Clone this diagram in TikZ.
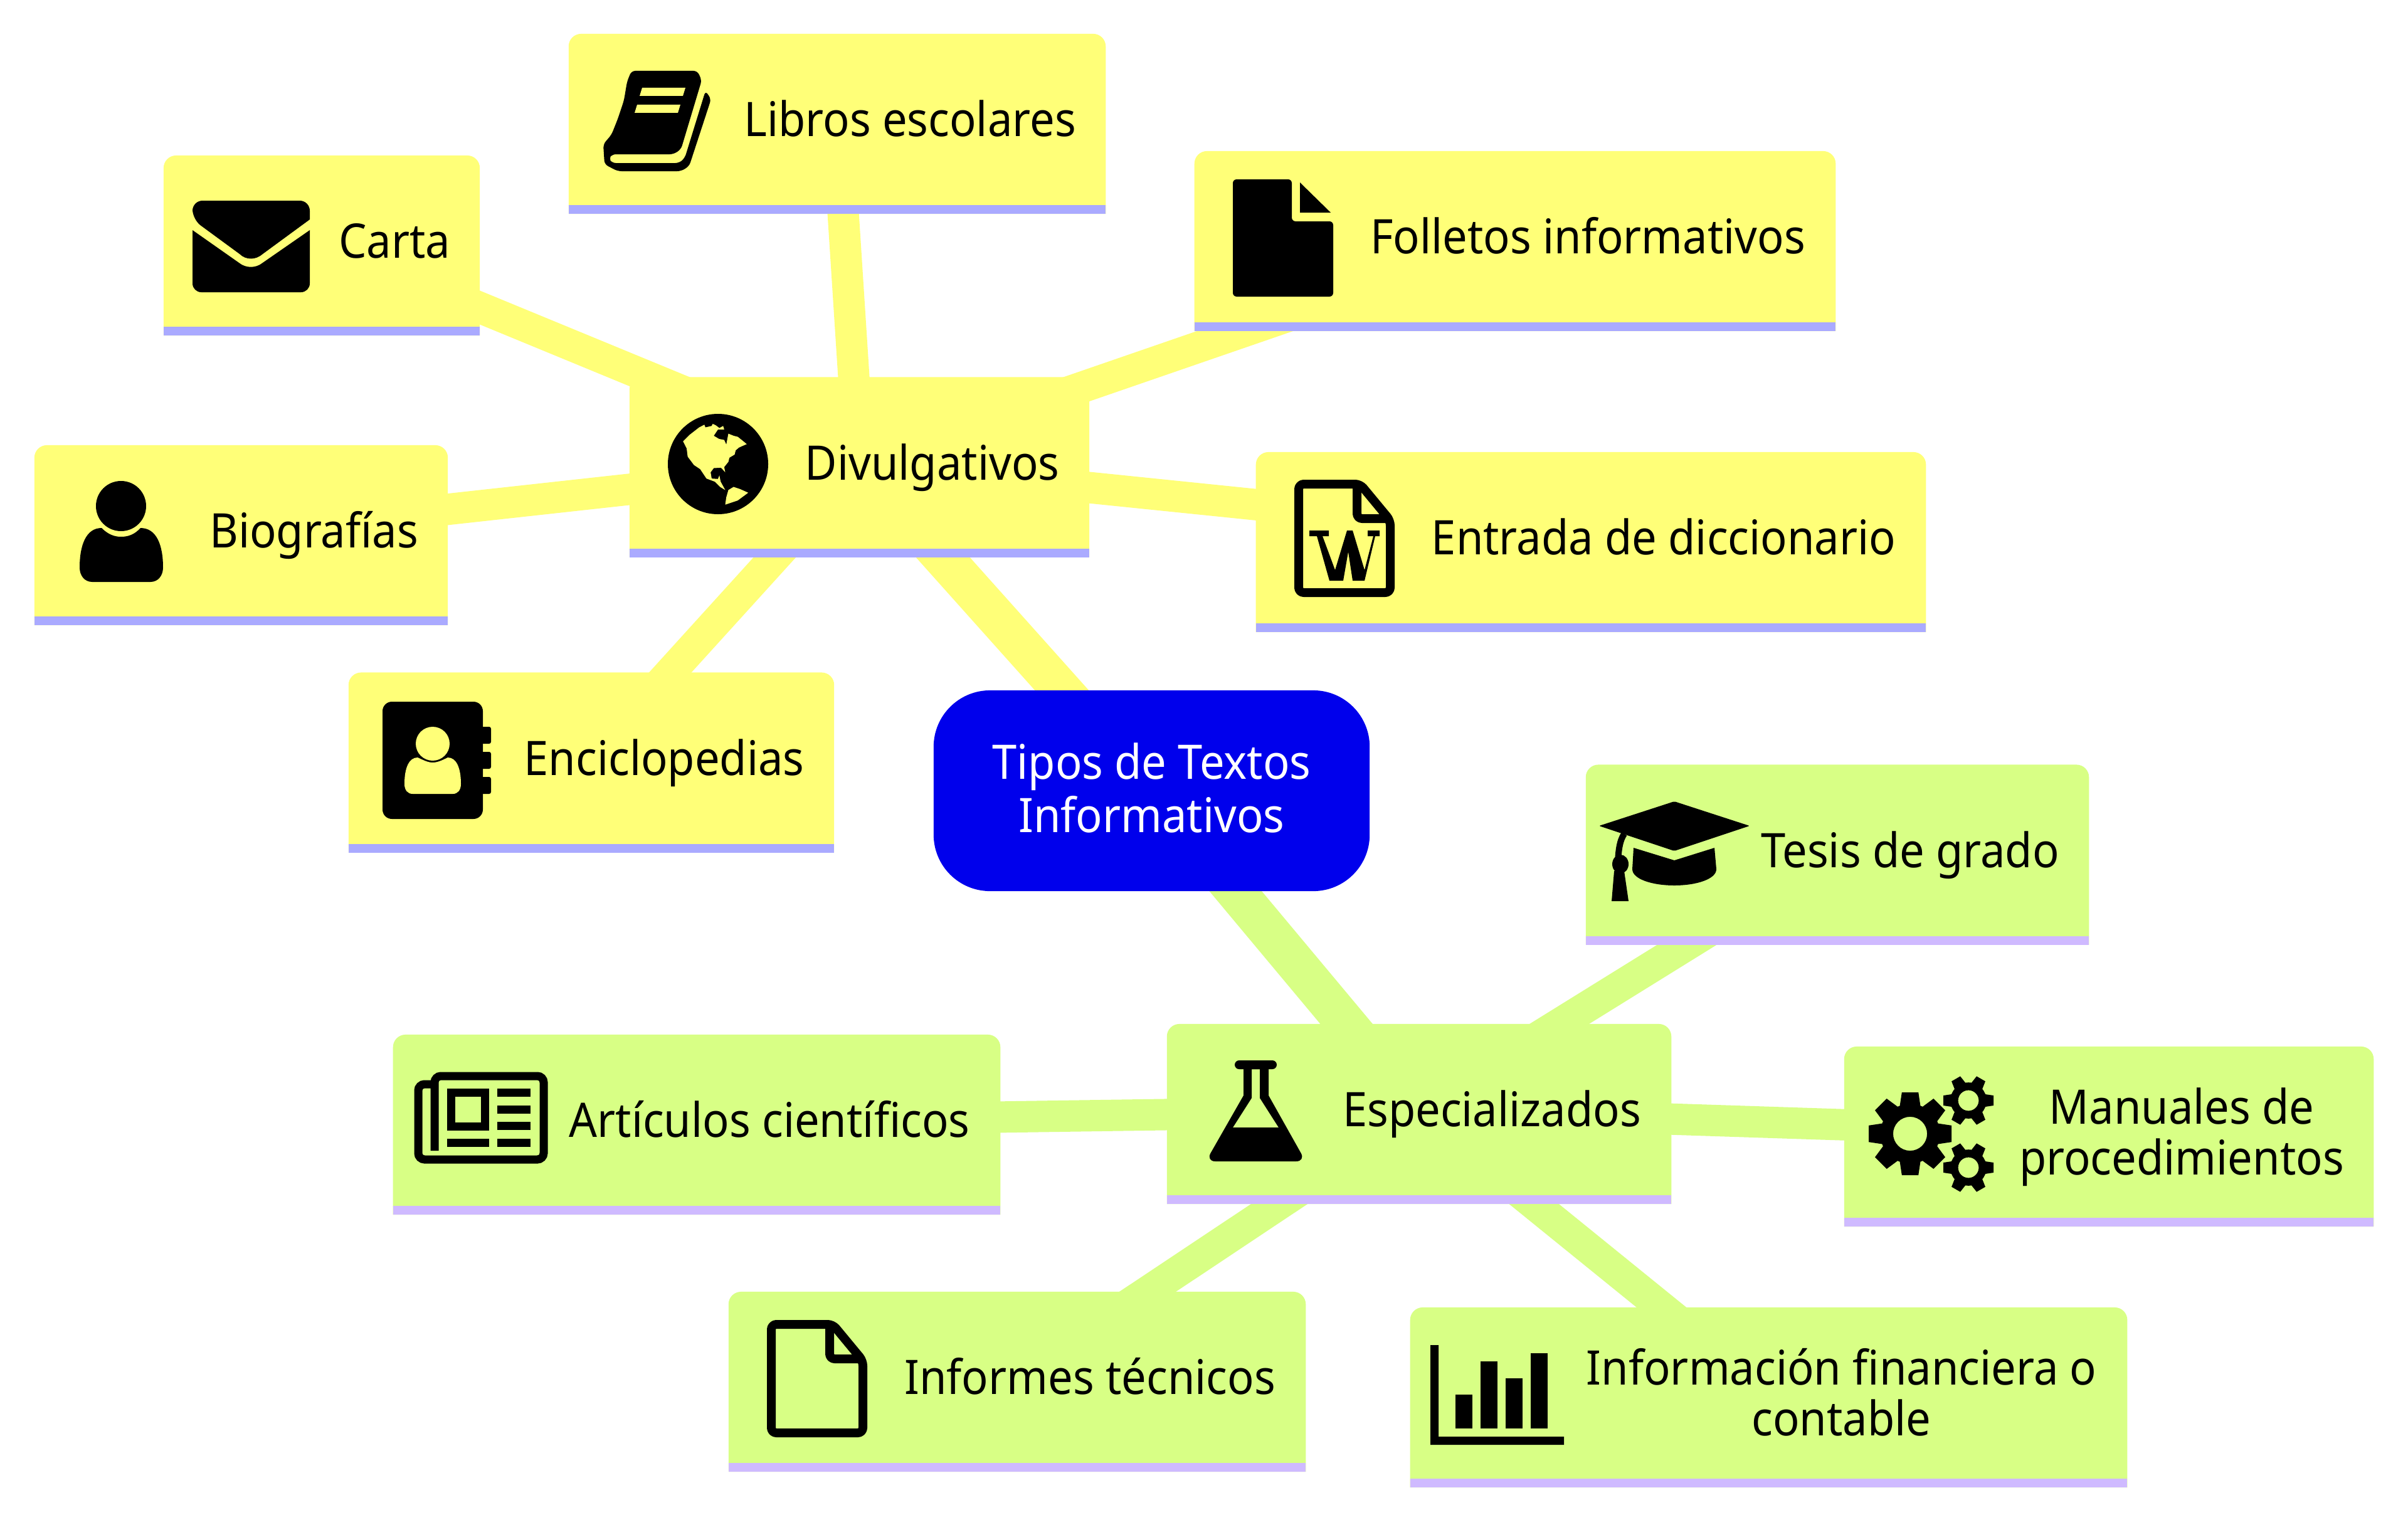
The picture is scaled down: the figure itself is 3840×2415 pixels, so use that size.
\documentclass[tikz,border=0pt]{standalone}
\usepackage{fontspec}
\setmainfont{Noto Sans}[FakeStretch=0.927]
\usepackage{tikz}
\usetikzlibrary{backgrounds}
\definecolor{divfill}{HTML}{FFFF78}
\definecolor{divline}{HTML}{AAAAFF}
\definecolor{espfill}{HTML}{D8FF85}
\definecolor{espline}{HTML}{CFBAFF}
\definecolor{rootfill}{HTML}{0000EC}
\newcommand{\lineheight}{\rule[-0.2cm]{0pt}{0.8cm}}
\newcommand{\rootheight}{\rule[-0.16cm]{0pt}{0.8cm}}
\newcommand{\ic}{\hspace*{2.32cm}\lineheight}
\newcommand{\gearicon}[5]{
	\foreach \a in {1,...,#4}
		\fill [rotate around={360/#4*\a+#5:(#1,#2)}] (#1-0.26*#3,#2-0.6*#3) -- (#1-0.2*#3,#2-#3) -- (#1+0.2*#3,#2-#3) -- (#1+0.26*#3,#2-0.6*#3) -- cycle;
	\fill [even odd rule] (#1,#2) circle [radius=0.72*#3] (#1,#2) circle [radius=0.41*#3];
}
\tikzset{
	leaf/.style={rectangle, inner sep=0pt, outer sep=0pt, minimum height=2.87cm, align=center, font=\fontsize{21.6pt}{23.04pt}\selectfont},
	rootnode/.style={leaf, fill=rootfill, text=white, rounded corners=0.9cm, minimum height=3.2cm},
	bigedge/.style={line width=0.64cm},
	smalledge/.style={line width=0.5cm},
	iconline/.style={line width=0.14cm, rounded corners=0.08cm, line join=round},
	iconfill/.style={rounded corners=0.06cm}
}
\begin{document}
\begin{tikzpicture}[x=0.01cm, y=-0.01cm]
	\useasboundingbox (0,0) rectangle (3840,2415);

	\node [rootnode, minimum width=6.95cm] (root) at (1836.5,1261) {\rootheight Tipos de Textos\\\rootheight Informativos};

	\node [leaf, minimum width=7.33cm] (div) at (1370.5,745) {\ic Divulgativos};
	\node [leaf, minimum width=5.04cm] (carta) at (513,391.5) {\ic Carta};
	\node [leaf, minimum width=8.56cm] (libros) at (1335,197.5) {\ic Libros escolares};
	\node [leaf, minimum width=10.22cm] (folletos) at (2416,384.5) {\ic Folletos informativos};
	\node [leaf, minimum width=10.68cm] (entrada) at (2537,864.5) {\ic Entrada de diccionario};
	\node [leaf, minimum width=6.59cm] (biografias) at (384.5,853.5) {\ic Biografías};
	\node [leaf, minimum width=7.74cm] (enciclopedias) at (943,1216) {\ic Enciclopedias};

	\node [leaf, minimum width=8.04cm] (esp) at (2263,1776.5) {\ic Especializados};
	\node [leaf, minimum width=8.02cm] (tesis) at (2930,1363) {\ic Tesis de grado};
	\node [leaf, minimum width=8.44cm] (manuales) at (3363,1812.5) {\ic Manuales de\\\ic procedimientos};
	\node [leaf, minimum width=9.68cm] (articulos) at (1111,1793.5) {\ic Artículos científicos};
	\node [leaf, minimum width=9.2cm] (informes) at (1622,2203.5) {\ic Informes técnicos};
	\node [leaf, minimum width=11.43cm] (informacion) at (2820.5,2228.5) {\ic Información financiera o\\\ic contable};

	\begin{scope}[on background layer]
		\fill [white] (0,0) rectangle (3840,2415);
		\draw [bigedge, divfill] (root.center) -- ([yshift=0.05cm]div.center);
		\draw [bigedge, espfill] (root.center) -- ([yshift=0.05cm]esp.center);
		\foreach \n in {carta,libros,folletos,entrada,biografias,enciclopedias}
			\draw [smalledge, divfill] ([yshift=0.05cm]div.center) -- ([yshift=0.05cm]\n.center);
		\foreach \n in {tesis,manuales,articulos,informes,informacion}
			\draw [smalledge, espfill] ([yshift=0.05cm]esp.center) -- ([yshift=0.05cm]\n.center);
		\foreach \n/\c/\s in {div/divfill/divline,carta/divfill/divline,libros/divfill/divline,folletos/divfill/divline,entrada/divfill/divline,biografias/divfill/divline,enciclopedias/divfill/divline,esp/espfill/espline,tesis/espfill/espline,manuales/espfill/espline,articulos/espfill/espline,informes/espfill/espline,informacion/espfill/espline} {
			\fill [\c] (\n.south west) [rounded corners=0.2cm] -- (\n.north west) -- (\n.north east) [sharp corners] -- (\n.south east) -- cycle;
			\fill [\s] (\n.south west) rectangle ([yshift=0.14cm]\n.south east);
		}
	\end{scope}

	% globe
	\fill (1145,740) circle [radius=80];
	\begin{scope}[shift={(1060,640)}, x=0.00333cm, y=-0.00333cm]
		\fill [divfill] (88,192) -- (120,160) -- (165,125) -- (190,112) -- (195,125) -- (225,118) -- (230,108) -- (245,115) -- (262,128) -- (280,118) -- (285,135) -- (255,135) -- (235,165) -- (260,180) -- (285,185) -- (295,207) -- (305,155) -- (330,165) -- (350,170) -- (375,190) -- (393,205) -- (370,215) -- (355,222) -- (340,235) -- (335,255) -- (310,270) -- (305,290) -- (285,315) -- (290,340) -- (270,318) -- (235,320) -- (220,340) -- (225,370) -- (255,372) -- (262,355) -- (268,385) -- (290,425) -- (265,410) -- (240,385) -- (200,370) -- (170,325) -- (140,305) -- (110,265) -- (105,225) -- cycle;
		\fill [divfill] (290,495) -- (295,460) -- (305,425) -- (330,410) -- (360,420) -- (400,438) -- (350,475) -- cycle;
	\end{scope}

	% envelope
	\fill [rounded corners=0.16cm] (400,320) -- (307,320) -- (307,350) [sharp corners] -- (382,405) .. controls (392,415) and (408,415) .. (419,405) -- (494,350) [rounded corners=0.16cm] -- (494,320) -- cycle;
	\fill [rounded corners=0.14cm] (400,466) -- (307,466) [sharp corners] -- (307,367) -- (381,419) .. controls (392,428) and (408,428) .. (419,419) -- (494,367) [rounded corners=0.14cm] -- (494,466) -- cycle;

	% book
	\fill [iconfill] (1007,113) -- (1112,113) -- (1119,128) -- (1086,238) -- (1074,246) -- (976,246) -- (971,253) -- (976,260) -- (1083,260) -- (1092,252) -- (1125,145) -- (1134,158) -- (1099,265) -- (1086,273) -- (985,273) -- (964,262) -- (962,230) -- (975,215) -- (985,190) -- (995,160) -- (1000,130) -- cycle;
	\fill [divfill] (1024,140) -- (1093,140) -- (1089,153) -- (1020,153) -- cycle;
	\fill [divfill] (1016,167) -- (1085,167) -- (1081,180) -- (1012,180) -- cycle;

	% filled page
	\fill [iconfill] (1966,286) -- (2060,286) -- (2060,353) -- (2126,353) -- (2126,473) -- (1966,473) -- cycle;
	\fill (2073,291) -- (2122,339) -- (2073,339) -- cycle;

	% outlined pages
	\foreach \dx/\dy in {2064/765,1223/2105} {
		\draw [iconline] (\dx+7,\dy+7) -- (\dx+105,\dy+7) -- (\dx+153,\dy+65) -- (\dx+153,\dy+180) -- (\dx+7,\dy+180) -- cycle;
		\draw [iconline] (\dx+100,\dy+7) -- (\dx+100,\dy+62) -- (\dx+153,\dy+62);
	}
	\fill (2088,846) -- (2119,846) -- (2119,855) -- (2109,855) -- (2129,909) -- (2148,846) -- (2157,846) -- (2176,909) -- (2190,855) -- (2181,855) -- (2181,846) -- (2200,846) -- (2200,855) -- (2193,855) -- (2176,926) -- (2157,926) -- (2150,880) -- (2142,926) -- (2120,926) -- (2100,855) -- (2088,855) -- cycle;

	% person
	\fill (193,807) circle [radius=40];
	\fill (162,842) .. controls (172,852) and (182,856) .. (193,856) .. controls (205,856) and (215,852) .. (224,842) .. controls (250,842) and (260,870) .. (260,905) .. controls (260,918) and (252,928) .. (240,928) -- (147,928) .. controls (135,928) and (127,918) .. (127,905) .. controls (127,870) and (137,842) .. (162,842) -- cycle;

	% address book
	\fill [rounded corners=0.15cm] (610,1119) rectangle (770,1306);
	\foreach \y in {1159,1199,1239}
		\fill [rounded corners=0.03cm] (765,\y) rectangle (783,\y+27);
	\fill [divfill] (690,1186) circle [radius=27];
	\fill [divfill] (666,1208) .. controls (675,1212) and (682,1216) .. (690,1216) .. controls (698,1216) and (706,1212) .. (714,1208) .. controls (728,1208) and (735,1225) .. (735,1250) .. controls (735,1260) and (730,1266) .. (722,1266) -- (658,1266) .. controls (650,1266) and (645,1260) .. (645,1250) .. controls (645,1225) and (652,1208) .. (666,1208) -- cycle;

	% flask
	\fill [rounded corners=0.07cm] (1969,1691) rectangle (2036,1705);
	\fill [even odd rule] (1983,1700) -- (2023,1700) -- (2023,1747) [rounded corners=0.15cm] -- (2082,1852) -- (1923,1852) [sharp corners] -- (1983,1747) -- cycle (1996,1705) -- (2009,1705) -- (2009,1751) -- (2039,1798) -- (1966,1798) -- (1996,1751) -- cycle;

	% cap
	\fill [rounded corners=0.02cm] (2550,1317) -- (2670,1278) -- (2790,1317) -- (2670,1357) -- cycle;
	\fill (2605,1352) -- (2670,1372) -- (2734,1352) -- (2737,1386) .. controls (2737,1402) and (2705,1412) .. (2670,1412) .. controls (2635,1412) and (2603,1402) .. (2603,1386) -- cycle;
	\draw [line width=0.1cm] (2590,1330) .. controls (2583,1340) and (2581,1355) .. (2580,1375);
	\fill (2584,1378) ellipse [x radius=13, y radius=15];
	\fill (2574,1389) -- (2590,1389) -- (2597,1437) -- (2570,1437) -- cycle;

	% gears
	\gearicon{3046}{1808}{66}{8}{0}
	\gearicon{3139}{1755}{40}{6}{30}
	\gearicon{3139}{1862}{40}{6}{30}

	% newspaper
	\draw [line width=0.13cm, rounded corners=0.1cm] (693,1835) -- (693,1716) -- (867,1716) -- (867,1849) -- (667,1849) -- (667,1729) -- (693,1729);
	\draw [line width=0.13cm] (719.5,1742.5) rectangle (773.5,1796.5);
	\foreach \y in {1736,1763,1789,1816}
		\fill (793,\y) rectangle (846,\y+13);
	\fill (713,1816) rectangle (780,1829);

	% chart
	\fill (2281,2145) -- (2294,2145) -- (2294,2291) -- (2494,2291) -- (2494,2304) -- (2281,2304) -- cycle;
	\fill (2321,2224) rectangle (2348,2278);
	\fill (2361,2171) rectangle (2388,2278);
	\fill (2401,2198) rectangle (2428,2278);
	\fill (2441,2158) rectangle (2468,2278);
\end{tikzpicture}
\end{document}
